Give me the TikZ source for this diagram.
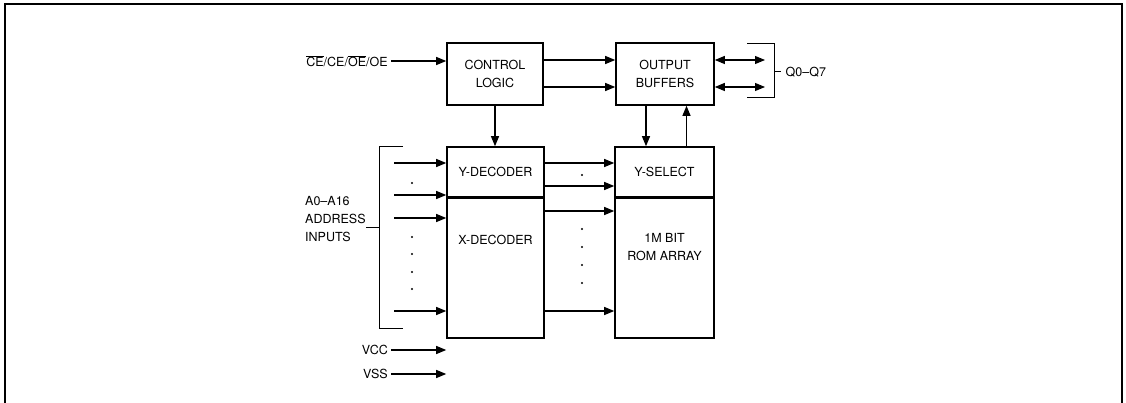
\documentclass[tikz,border=0pt]{standalone}
\usepackage{fontspec}
\setmainfont{TeX Gyre Heros}
\usetikzlibrary{arrows.meta,calc}
\newcommand\ovl[1]{$\overline{\mbox{#1}}$}

\begin{document}
\begin{tikzpicture}[x=1pt, y=-1pt,
    font=\fontsize{12.5}{18}\selectfont,
    arr/.style={-{Triangle[length=10pt,width=8pt]}, line width=1.1pt},
    both/.style={{Triangle[length=10pt,width=8pt]}-{Triangle[length=10pt,width=8pt]}, line width=1.1pt},
    blk/.style={draw, line width=1.6pt, inner sep=0pt, align=center}]
  \useasboundingbox (0,0) rectangle (1126,403);
  \draw[line width=1.2pt] (5,403) -- (5,4) -- (1122,4) -- (1122,403);

  % blocks
  \node[blk, minimum width=96, minimum height=62] (ctl) at (495,74) {CONTROL\\LOGIC};
  \node[blk, minimum width=98, minimum height=62] (obuf) at (665,74) {OUTPUT\\BUFFERS};
  \node[blk, minimum width=97, minimum height=50] (ydec) at (495.5,172) {Y-DECODER};
  \node[blk, minimum width=97, minimum height=141] (xdec) at (495.5,267.5) {};
  \node[blk, minimum width=99, minimum height=50] (ysel) at (664.5,172) {Y-SELECT};
  \node[blk, minimum width=99, minimum height=141] (rom) at (664.5,267.5) {};
  \node (xtxt) at (495.5,240) {X-DECODER};
  \node[align=center] (romtxt) at (664.5,247) {1M BIT\\ROM ARRAY};
  \draw[line width=2.6pt] (ydec.south west) -- (ydec.south east);
  \draw[line width=2.6pt] (ysel.south west) -- (ysel.south east);

  % control and outputs
  \node (cein) at (347,61) {\ovl{CE}/CE/\ovl{OE}/OE};
  \draw[arr] (cein.east) -- (cein.east -| ctl.west);
  \draw[arr] ([yshift=14pt]ctl.east) -- ([yshift=14pt]ctl.east -| obuf.west);
  \draw[arr] ([yshift=-13pt]ctl.east) -- ([yshift=-13pt]ctl.east -| obuf.west);
  \draw[arr] (ctl.south) -- (ctl.south |- ydec.north);
  \draw[arr] ([xshift=-19pt]obuf.south) -- ([xshift=-19pt]obuf.south |- ysel.north);
  \draw[arr] ([xshift=22pt]ysel.north) -- ([xshift=22pt]ysel.north |- obuf.south);

  \coordinate (q1) at (765,60);
  \coordinate (q2) at (765,87);
  \draw[both] ([yshift=14pt]obuf.east) -- (q1);
  \draw[both] ([yshift=-13pt]obuf.east) -- (q2);
  \coordinate (qtop) at (747,44);
  \coordinate (qbot) at (747,98);
  \draw[line width=1pt] (qtop) -- (774,44) -- (774,98) -- (qbot);
  \node[anchor=west, inner sep=4.5pt] (qout) at (781,72) {Q0–Q7};
  \draw[line width=1pt] (774,72) -- (qout.west);

  % decoders to array
  \draw[arr] ([yshift=9pt]ydec.east) -- ([yshift=9pt]ydec.east -| ysel.west);
  \draw[arr] ([yshift=-14pt]ydec.east) -- ([yshift=-14pt]ydec.east -| ysel.west);
  \draw[arr] ([yshift=56.5pt]xdec.east) -- ([yshift=56.5pt]xdec.east -| rom.west);
  \draw[arr] ([yshift=-43.5pt]xdec.east) -- ([yshift=-43.5pt]xdec.east -| rom.west);
  \foreach \y in {175,229,247,265,283}
    \fill (582,\y) circle (1.1pt);

  % address inputs
  \foreach \y/\n in {163/a1,195/a2,218/a3,311/a4}
    \coordinate (\n) at (394,\y);
  \draw[arr] (a1) -- (a1 -| ydec.west);
  \draw[arr] (a2) -- (a2 -| ydec.west);
  \draw[arr] (a3) -- (a3 -| xdec.west);
  \draw[arr] (a4) -- (a4 -| xdec.west);
  \foreach \y in {183,237,254,272,289}
    \fill (412,\y) circle (1.1pt);
  \draw[line width=1pt] (403,147) -- (379,147) -- (379,328) -- (403,328);
  \node[anchor=west, align=left, inner sep=0pt] (addr) at (305,219) {A0–A16\\ADDRESS\\INPUTS};
  \draw[line width=1pt] (366,228) -- (379,228);

  % supply
  \node[anchor=east, inner sep=3pt] (vcc) at (391,350) {VCC};
  \node[anchor=east, inner sep=3pt] (vss) at (391,374) {VSS};
  \draw[arr] (vcc.east) -- (vcc.east -| xdec.west);
  \draw[arr] (vss.east) -- (vss.east -| xdec.west);
\end{tikzpicture}
\end{document}
